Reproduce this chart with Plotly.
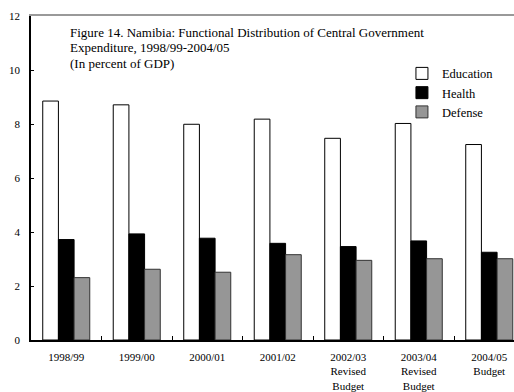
import plotly.graph_objects as go

categories = ["1998/99", "1999/00", "2000/01", "2001/02",
              "2002/03<br>Revised<br>Budget", "2003/04<br>Revised<br>Budget",
              "2004/05<br>Budget"]
education = [8.85, 8.71, 7.99, 8.18, 7.47, 8.02, 7.24]
health = [3.72, 3.93, 3.77, 3.58, 3.46, 3.67, 3.25]
defense = [2.31, 2.62, 2.51, 3.16, 2.95, 3.01, 3.01]
y_ticks = [0, 2, 4, 6, 8, 10, 12]
title_lines = ["Figure 14. Namibia: Functional Distribution of Central Government",
               "Expenditure, 1998/99-2004/05",
               "(In percent of GDP)"]

FONT = "Liberation Serif"
xpos = list(range(len(categories)))
xrange = [-0.5, 6.351]

fig = go.Figure()
fig.add_bar(x=xpos, y=education, name="Education",
            marker=dict(color="white", line=dict(color="black", width=1)))
fig.add_bar(x=xpos, y=health, name="Health",
            marker=dict(color="black", line=dict(color="black", width=1)))
fig.add_bar(x=xpos, y=defense, name="Defense",
            marker=dict(color="#969696", line=dict(color="#333333", width=1)))

fig.update_layout(
    width=514, height=392,
    margin=dict(l=31, r=0, t=16, b=50),
    paper_bgcolor="white", plot_bgcolor="white",
    barmode="group", bargap=0.333, bargroupgap=0,
    font=dict(family=FONT, size=11, color="black"),
    showlegend=True,
    legend=dict(x=0.768, y=0.868, xanchor="left", yanchor="top",
                font=dict(family=FONT, size=12.5, color="black"),
                tracegroupgap=0, bgcolor="rgba(0,0,0,0)", itemwidth=30),
    xaxis=dict(range=xrange, tickvals=xpos, ticktext=categories,
               showline=True, linecolor="black", linewidth=1.5,
               ticks="", showgrid=False, zeroline=False,
               tickfont=dict(family=FONT, size=11, color="black"),
               ticklabelstandoff=6),
    xaxis2=dict(range=xrange, overlaying="x", anchor="y", side="bottom",
                tickvals=[i + 0.5 for i in xpos[:-1]], ticks="inside",
                ticklen=4, tickcolor="black", tickwidth=1,
                showticklabels=False, showline=False, showgrid=False,
                zeroline=False),
    xaxis3=dict(range=xrange, overlaying="x", anchor="y", side="top",
                showline=True, linecolor="#999999", linewidth=1.5,
                showticklabels=False, ticks="", showgrid=False,
                zeroline=False),
    yaxis=dict(range=[0, 12], tickvals=y_ticks, showline=True,
               linecolor="black", linewidth=1.5, ticks="inside", ticklen=3,
               tickcolor="black", showgrid=False, zeroline=False,
               tickfont=dict(family=FONT, size=11, color="black"),
               ticklabelstandoff=7),
)

# invisible traces to activate auxiliary axes
fig.add_scatter(x=[xpos[0]], y=[0], xaxis="x2", showlegend=False,
                mode="markers", marker=dict(opacity=0), hoverinfo="skip")
fig.add_scatter(x=[xpos[0]], y=[0], xaxis="x3", showlegend=False,
                mode="markers", marker=dict(opacity=0), hoverinfo="skip")

line_y = [0.95, 0.902, 0.853]
for txt, yy in zip(title_lines, line_y):
    fig.add_annotation(text=txt, xref="paper", yref="paper",
                       x=0.0766, y=yy, xanchor="left", yanchor="middle",
                       align="left", showarrow=False,
                       font=dict(family=FONT, size=13, color="black"))

fig.write_html("out.html")
